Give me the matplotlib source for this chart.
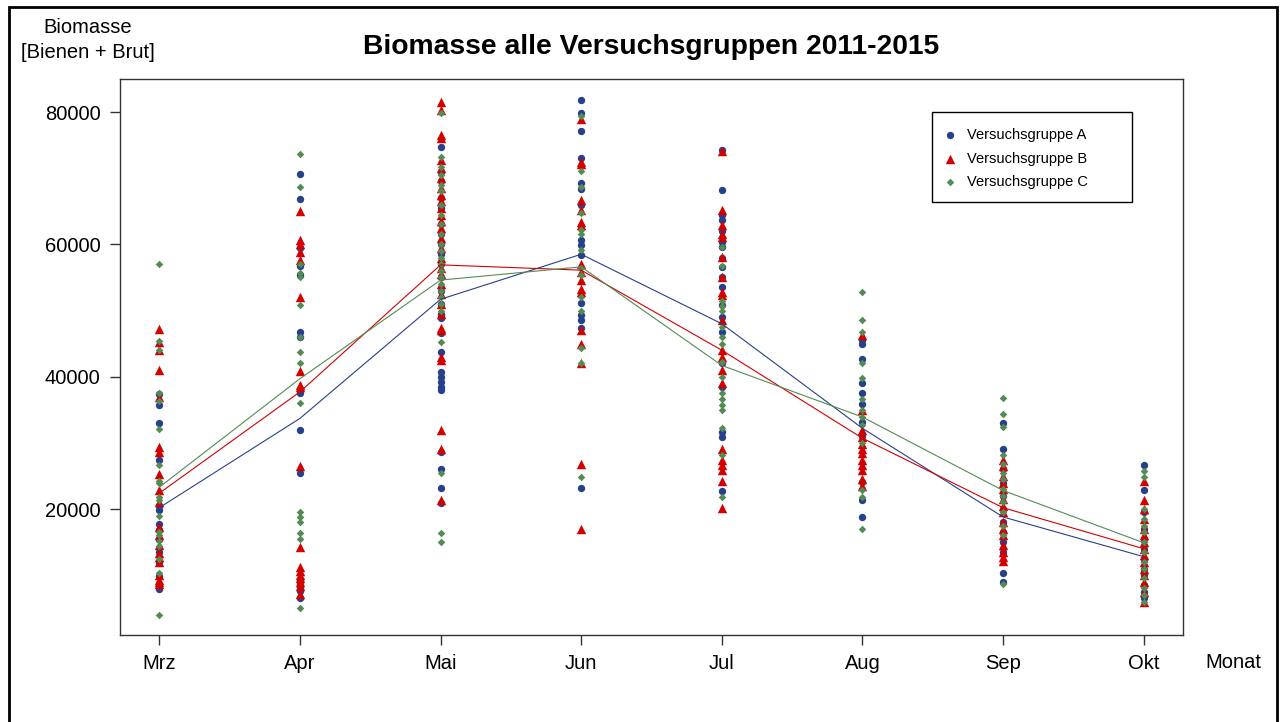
import matplotlib.pyplot as plt
from matplotlib.patches import Rectangle

plt.rcParams['font.family'] = ['Liberation Sans', 'DejaVu Sans']

months = ['Mrz', 'Apr', 'Mai', 'Jun', 'Jul', 'Aug', 'Sep', 'Okt']
groups = ['Versuchsgruppe A', 'Versuchsgruppe B', 'Versuchsgruppe C']

# Einzelwerte je Monat (Biomasse)
group_a = [
    [37400, 35700, 33000, 27400, 20400, 19800, 17700, 16800, 15500, 13500, 12000, 9800, 7900],
    [70600, 66800, 59500, 56800, 55300, 46800, 46000, 37500, 32000, 25400, 9200, 8600, 8100, 7600, 6500],
    [74700, 71000, 69500, 67000, 65500, 63000, 61500, 60000, 58500, 57000, 55000, 53000, 51000,
     49500, 48800, 46600, 43700, 40700, 40000, 39200, 38500, 38000, 28600, 26100, 23200, 20900],
    [81800, 79800, 77100, 73000, 69200, 68400, 65900, 60600, 59900, 58400, 51100, 49300, 48600, 47300, 23200],
    [74300, 68200, 64400, 63700, 62000, 60400, 59600, 58000, 56600, 55000, 53600, 50800, 49000,
     46800, 42000, 38500, 31600, 30900, 22700],
    [45500, 45000, 42600, 39000, 37500, 35900, 33200, 31000, 24100, 21300, 18800],
    [33000, 29100, 26000, 24000, 22000, 20000, 18000, 16500, 15000, 13500, 10400, 8900],
    [26600, 22800, 19500, 17000, 15500, 14000, 12500, 11000, 10000, 8500, 7500, 6500],
]
group_b = [
    [47200, 45200, 44000, 41000, 36900, 29300, 28600, 25300, 22800, 21000, 17300, 16000, 14500,
     13400, 12700, 12000, 10000, 9200, 9000, 8600],
    [65000, 60600, 60000, 58900, 57600, 52000, 40800, 38700, 38500, 26500, 14300, 11200, 10600,
     10000, 9500, 9000, 8300, 7200],
    [81500, 80300, 76500, 76000, 72700, 71500, 70000, 68500, 67500, 66500, 65500, 64500, 63500,
     62500, 61000, 59500, 58000, 56500, 55500, 54000, 52500, 51000, 49500, 47300, 47000, 43000,
     42500, 32000, 29100, 21300],
    [78900, 72500, 72200, 66700, 65200, 63400, 62900, 57100, 55800, 54600, 53300, 52800, 47000,
     44900, 42100, 26800, 17000],
    [74100, 65200, 62900, 61600, 61100, 58100, 55100, 52800, 52300, 48500, 44000, 43000, 41000,
     39000, 29100, 27400, 26600, 25900, 24200, 20200],
    [46300, 35000, 32000, 30900, 29900, 29100, 28400, 27400, 26600, 25900, 24500, 23500],
    [27400, 26500, 25000, 24000, 23000, 21500, 20500, 19500, 18000, 17000, 16000, 14500, 13500,
     12800, 12200],
    [24300, 21300, 20000, 18500, 17000, 16000, 15000, 14000, 13000, 12000, 11000, 10000, 9000,
     7500, 6000],
]
group_c = [
    [57050, 45400, 44000, 37600, 36300, 32100, 26600, 24200, 23900, 21800, 21300, 18900, 16500,
     16000, 15200, 14400, 12400, 10300, 4000],
    [73700, 68600, 57100, 55700, 55100, 50800, 46000, 43800, 42100, 36000, 19500, 18800, 18000,
     16300, 15500, 5000],
    [79800, 73200, 71700, 70500, 69000, 68000, 66000, 64500, 63000, 61500, 60000, 59000, 58000,
     57000, 56000, 55000, 54000, 53000, 52000, 51000, 50000, 45300, 25500, 16300, 15000],
    [79400, 71100, 68700, 64700, 62100, 61600, 59100, 56400, 55300, 52100, 50000, 44300, 42100, 24800],
    [59600, 56800, 51500, 50700, 50000, 47500, 46000, 45000, 42200, 40000, 37500, 36700, 35700,
     34900, 32200, 28100, 21800],
    [52800, 48600, 46800, 42100, 39800, 36700, 34900, 33900, 32700, 30000, 22800, 21800, 17000],
    [36800, 34400, 32400, 28100, 26800, 25500, 24500, 23000, 22000, 21000, 19500, 17500, 16000, 8600],
    [25700, 24800, 20000, 18500, 17500, 16500, 15000, 13500, 12000, 11000, 9500, 8000, 7000, 6000],
]

# Mittelwerte je Monat
mean_a = [20200, 33700, 51700, 58500, 48000, 32200, 18800, 12800]
mean_b = [22400, 37700, 56900, 56100, 44000, 30700, 20200, 14000]
mean_c = [23300, 39700, 54600, 56600, 41700, 33900, 22800, 14900]

colors = ['#27408B', '#D40000', '#548B54']
markers = ['o', '^', 'D']
sizes = [28, 46, 15]

W, H = 1282, 722
fig = plt.figure(figsize=(W / 100, H / 100), dpi=100)
ax = fig.add_axes([120 / W, 87 / H, 1063 / W, 556 / H])

x = list(range(1, len(months) + 1))
for data, col, mk, sz, name in zip([group_a, group_b, group_c], colors, markers, sizes, groups):
    xs, ys = [], []
    for i, vals in enumerate(data):
        xs += [x[i]] * len(vals)
        ys += vals
    ax.scatter(xs, ys, s=sz, c=col, marker=mk, linewidths=0, label=name, zorder=2)

for means, col in zip([mean_a, mean_b, mean_c], colors):
    ax.plot(x, means, color=col, lw=0.8, zorder=3)

ax.set_xlim(0.72, 8.28)
ax.set_ylim(958, 84990)
ax.set_xticks(x)
ax.set_xticklabels(months)
ax.set_yticks([20000, 40000, 60000, 80000])
ax.set_yticklabels(['20000', '40000', '60000', '80000'])
ax.tick_params(direction='out', length=7, width=1, labelsize=14.5, color='#333333')
ax.tick_params(axis='x', pad=7)
ax.tick_params(axis='y', pad=7)
for sp in ax.spines.values():
    sp.set_linewidth(1)
    sp.set_color('#333333')

ax.set_title('Biomasse alle Versuchsgruppen 2011-2015', fontsize=20.3, fontweight='bold', pad=18)
fig.text(88 / W, 1 - 40 / H, 'Biomasse\n[Bienen + Brut]', ha='center', va='center',
         fontsize=14.5, linespacing=1.45)
fig.text(1233 / W, 1 - 662 / H, 'Monat', ha='center', va='center', fontsize=14.5)

# Legende ohne eigenen Rahmen, Rahmen wie im Original separat
leg = ax.legend(loc='upper left', bbox_to_anchor=((942.7 - 120) / 1063, (635 - 128) / 556),
                fontsize=10.5, frameon=False, borderpad=0, handlelength=1.0,
                handletextpad=0.66, labelspacing=0.66, scatterpoints=1, borderaxespad=0)
ax.add_patch(Rectangle(((932 - 120) / 1063, (635 - 202) / 556), 200 / 1063, 90 / 556,
                       transform=ax.transAxes, fill=False, edgecolor='black', lw=1, zorder=5))

fig.patches.append(Rectangle((9 / W, -0.05), 1268 / W, 1.05 - 7 / H,
                             transform=fig.transFigure, fill=False, edgecolor='black', lw=2))

fig.savefig('out.png', dpi=100)
